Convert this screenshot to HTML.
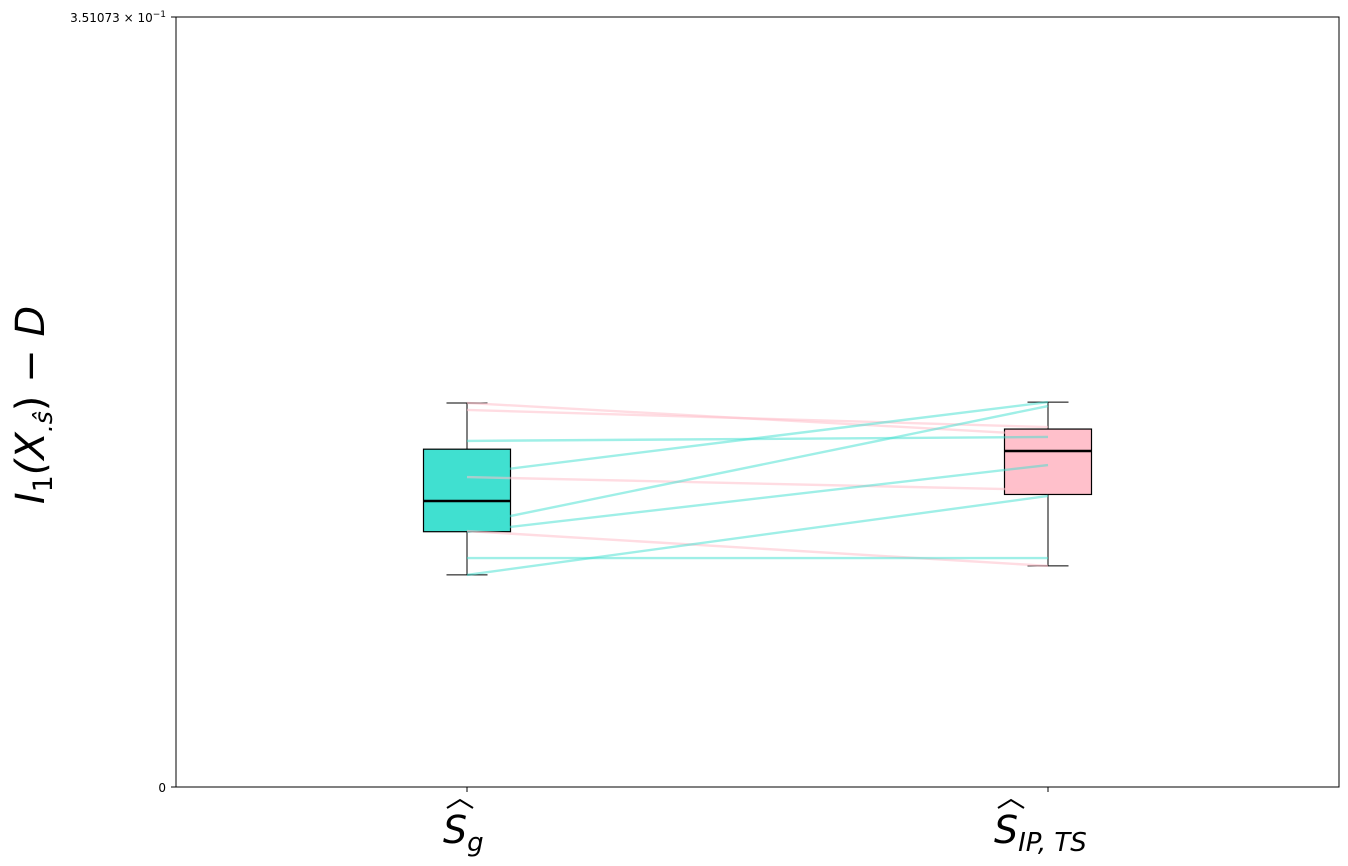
<!DOCTYPE html>
<html><head><meta charset="utf-8"><style>
html,body{margin:0;padding:0;background:#fff;}
svg{display:block;font-family:"DejaVu Sans","Liberation Sans",sans-serif;}
</style></head><body>
<svg id="chart" width="1348" height="866" xmlns="http://www.w3.org/2000/svg">
<rect x="176" y="17" width="1163" height="770" fill="#fff" stroke="#000" stroke-width="1"/>
<g id="boxes"></g>
<g id="lines"></g>
<g>
<line x1="171" y1="17" x2="176" y2="17" stroke="#000"/>
<line x1="171" y1="787" x2="176" y2="787" stroke="#000"/>
<text x="166" y="22" font-size="12" text-anchor="end">3.51073 × 10<tspan dy="-5" font-size="9">−1</tspan></text>
<text x="166" y="792" font-size="12" text-anchor="end">0</text>
<text transform="translate(44,405) rotate(-90)" font-size="40" font-style="italic" text-anchor="middle">I<tspan font-size="27" dy="8" font-style="normal">1</tspan><tspan dy="-8">(X</tspan><tspan font-size="25" dy="8">.ŝ</tspan><tspan dy="-8" font-style="normal">) − </tspan>D</text>
</g>
<g>
<line x1="467" y1="787" x2="467" y2="792" stroke="#000"/>
<line x1="1048" y1="787" x2="1048" y2="792" stroke="#000"/>
<g>
<polyline points="447,808 460,800 473,808" fill="none" stroke="#000" stroke-width="2"/>
<text x="443" y="843" font-size="38" font-style="italic">S<tspan font-size="26" dy="8">g</tspan></text>
</g>
<g>
<polyline points="998,808 1011,800 1024,808" fill="none" stroke="#000" stroke-width="2"/>
<text x="994" y="843" font-size="38" font-style="italic">S<tspan font-size="26" dy="8">IP, TS</tspan></text>
</g>
</g>
</svg>
<script>
const categories = ["S_g", "S_IP,TS"];
const leftValues = [0.1751, 0.1719, 0.1578, 0.1427, 0.1413, 0.1195, 0.1163, 0.1167, 0.1044, 0.0967];
const rightValues = [0.1605, 0.1641, 0.1596, 0.1755, 0.1354, 0.1737, 0.1468, 0.1008, 0.1044, 0.1327];
const yTicks = [0, 0.351073];
const boxColors = ["#40e0d0", "#ffc0cb"];

const NS = "http://www.w3.org/2000/svg";
const yMin = 0, yMax = 0.351073, pTop = 17, pBot = 787;
function yScale(v){ return pBot - (v - yMin) / (yMax - yMin) * (pBot - pTop); }
function xScale(i){ return 467 + i * 581; }
function mk(tag, attrs){ const e = document.createElementNS(NS, tag); for (const k in attrs) e.setAttribute(k, attrs[k]); return e; }
function pct(arr, p){ const s = [...arr].sort((a,b)=>a-b); const idx = p*(s.length-1); const lo = Math.floor(idx), hi = Math.ceil(idx); return s[lo] + (s[hi]-s[lo])*(idx-lo); }

const bg = document.getElementById('boxes');
[leftValues, rightValues].forEach((arr, i) => {
  const x = xScale(i);
  const q1 = pct(arr, 0.25), med = pct(arr, 0.5), q3 = pct(arr, 0.75);
  const iqr = q3 - q1;
  const lo = Math.min(...arr.filter(v => v >= q1 - 1.5*iqr));
  const hi = Math.max(...arr.filter(v => v <= q3 + 1.5*iqr));
  const g = mk('g', {});
  
  
  g.appendChild(mk('line', {x1: x, y1: yScale(hi), x2: x, y2: yScale(q3), stroke: '#000'}));
  g.appendChild(mk('line', {x1: x, y1: yScale(q1), x2: x, y2: yScale(lo), stroke: '#000'}));
  g.appendChild(mk('line', {x1: x-20.5, y1: yScale(hi), x2: x+20.5, y2: yScale(hi), stroke: '#000'}));
  g.appendChild(mk('line', {x1: x-20.5, y1: yScale(lo), x2: x+20.5, y2: yScale(lo), stroke: '#000'}));
  g.appendChild(mk('rect', {x: x-43.5, y: yScale(q3), width: 87, height: yScale(q1)-yScale(q3), fill: boxColors[i], stroke: '#000', 'stroke-width': 1.2}));
  g.appendChild(mk('line', {x1: x-43.5, y1: yScale(med), x2: x+43.5, y2: yScale(med), stroke: '#000', 'stroke-width': 2.5}));
  bg.appendChild(g);
});

const lg = document.getElementById('lines');
leftValues.forEach((lv, i) => {
  const rv = rightValues[i];
  const up = rv >= lv;
  const l = mk('line', {x1: xScale(0), y1: yScale(lv), x2: xScale(1), y2: yScale(rv), stroke: up ? '#40e0d0' : '#ffc0cb', 'stroke-width': 2.4, 'stroke-opacity': up ? 0.5 : 0.55});
  
  
  lg.appendChild(l);
});
</script>
</body></html>
